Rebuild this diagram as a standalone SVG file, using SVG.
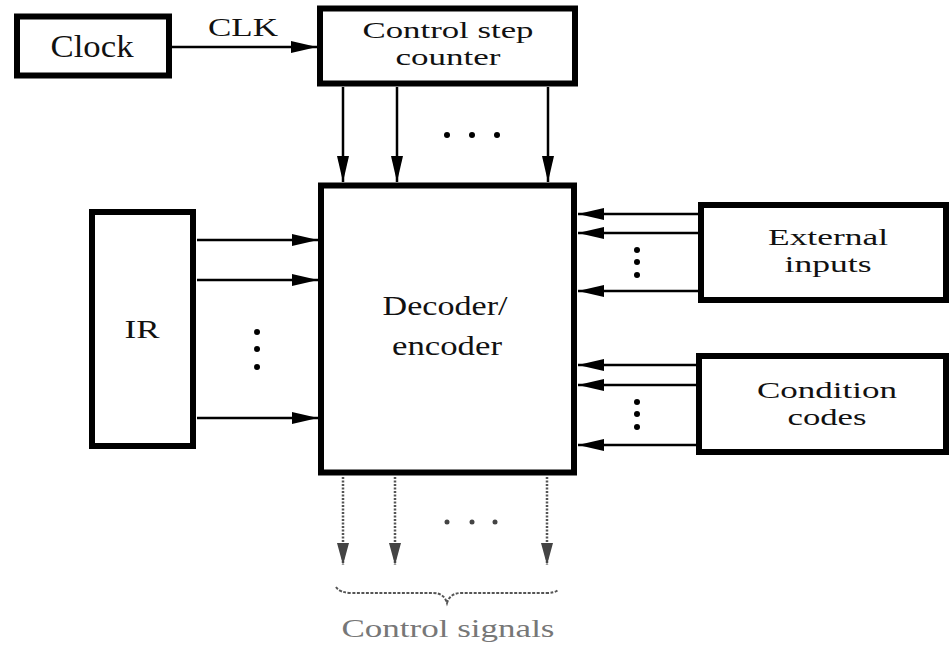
<svg xmlns="http://www.w3.org/2000/svg" width="950" height="652" viewBox="0 0 950 652">
<style>
.box{fill:#fff;stroke:#000;stroke-width:6}
.t{font-family:"Liberation Serif","Times New Roman",serif;fill:#111;text-anchor:middle}
.ln{stroke:#000;stroke-width:2.5;fill:none}
.dl{stroke:#555;stroke-width:2.5;fill:none;stroke-dasharray:2 1.5}
.dot{fill:#000}
</style>
<defs>
<marker id="ah" markerUnits="userSpaceOnUse" markerWidth="28" markerHeight="14" refX="26" refY="7" orient="auto">
<path d="M0,1 L26,7 L0,13 Z" fill="#000"/>
</marker>
<marker id="ahg" markerUnits="userSpaceOnUse" markerWidth="24" markerHeight="14" refX="22" refY="7" orient="auto">
<path d="M0,1 L22,7 L0,13 Z" fill="#444"/>
</marker>
</defs>

<g id="clock">
<rect class="box" x="17" y="16.5" width="152" height="59"/>
<text class="t" x="92" y="57" font-size="32" textLength="83" lengthAdjust="spacingAndGlyphs">Clock</text>
</g>

<g id="counter">
<rect class="box" x="320" y="8.5" width="255" height="75"/>
<text class="t" x="448" y="38" font-size="23" textLength="171" lengthAdjust="spacingAndGlyphs">Control step</text>
<text class="t" x="448" y="65" font-size="23" textLength="105" lengthAdjust="spacingAndGlyphs">counter</text>
</g>

<g id="decoder">
<rect class="box" x="321" y="185.5" width="253" height="287" stroke-width="7"/>
<text class="t" x="445" y="315" font-size="28" textLength="125" lengthAdjust="spacingAndGlyphs">Decoder/</text>
<text class="t" x="447" y="355" font-size="28" textLength="110" lengthAdjust="spacingAndGlyphs">encoder</text>
</g>

<g id="ir">
<rect class="box" x="92" y="212" width="101" height="234" stroke-width="8"/>
<text class="t" x="142" y="338" font-size="25" textLength="35" lengthAdjust="spacingAndGlyphs">IR</text>
</g>

<g id="external">
<rect class="box" x="701" y="205" width="245" height="95"/>
<text class="t" x="828" y="245" font-size="23" textLength="120" lengthAdjust="spacingAndGlyphs">External</text>
<text class="t" x="828" y="272" font-size="23" textLength="87" lengthAdjust="spacingAndGlyphs">inputs</text>
</g>

<g id="condition">
<rect class="box" x="699" y="356" width="247" height="96"/>
<text class="t" x="827" y="398" font-size="23" textLength="140" lengthAdjust="spacingAndGlyphs">Condition</text>
<text class="t" x="827" y="425" font-size="23" textLength="79" lengthAdjust="spacingAndGlyphs">codes</text>
</g>

<g id="connectors">
<line class="ln" x1="172" y1="47" x2="317" y2="47" marker-end="url(#ah)"/>
<text class="t" x="243" y="36" font-size="26" textLength="70" lengthAdjust="spacingAndGlyphs">CLK</text>

<line class="ln" x1="343" y1="87" x2="343" y2="182" marker-end="url(#ah)"/>
<line class="ln" x1="397" y1="87" x2="397" y2="182" marker-end="url(#ah)"/>
<line class="ln" x1="548" y1="87" x2="548" y2="182" marker-end="url(#ah)"/>
<circle class="dot" cx="447" cy="135" r="3"/>
<circle class="dot" cx="472" cy="135" r="3"/>
<circle class="dot" cx="497" cy="135" r="3"/>

<line class="ln" x1="197" y1="240" x2="318" y2="240" marker-end="url(#ah)"/>
<line class="ln" x1="197" y1="280" x2="318" y2="280" marker-end="url(#ah)"/>
<line class="ln" x1="197" y1="418" x2="318" y2="418" marker-end="url(#ah)"/>
<circle class="dot" cx="257" cy="332" r="3"/>
<circle class="dot" cx="257" cy="349" r="3"/>
<circle class="dot" cx="257" cy="367" r="3"/>

<line class="ln" x1="700" y1="214" x2="578" y2="214" marker-end="url(#ah)"/>
<line class="ln" x1="700" y1="233" x2="578" y2="233" marker-end="url(#ah)"/>
<line class="ln" x1="700" y1="291" x2="578" y2="291" marker-end="url(#ah)"/>
<circle class="dot" cx="637" cy="250" r="3"/>
<circle class="dot" cx="637" cy="262" r="3"/>
<circle class="dot" cx="637" cy="275" r="3"/>

<line class="ln" x1="698" y1="365" x2="578" y2="365" marker-end="url(#ah)"/>
<line class="ln" x1="698" y1="385" x2="578" y2="385" marker-end="url(#ah)"/>
<line class="ln" x1="698" y1="445" x2="578" y2="445" marker-end="url(#ah)"/>
<circle class="dot" cx="637" cy="402" r="3"/>
<circle class="dot" cx="637" cy="414" r="3"/>
<circle class="dot" cx="637" cy="427" r="3"/>

<line class="dl" x1="343" y1="477" x2="343" y2="565" marker-end="url(#ahg)"/>
<line class="dl" x1="395" y1="477" x2="395" y2="565" marker-end="url(#ahg)"/>
<line class="dl" x1="547" y1="477" x2="547" y2="565" marker-end="url(#ahg)"/>
<circle cx="447" cy="522" r="2.5" fill="#444"/>
<circle cx="472" cy="522" r="2.5" fill="#444"/>
<circle cx="495" cy="522" r="2.5" fill="#444"/>

<path d="M336,587 Q340,593 352,593 L433,593 Q444,593 447,603 Q450,593 461,593 L546,593 Q555,593 558,590" fill="none" stroke="#555" stroke-width="2" stroke-dasharray="3 1.5"/>
<text x="448" y="637" font-family="'Liberation Serif','Times New Roman',serif" font-size="26" fill="#777" text-anchor="middle" textLength="213" lengthAdjust="spacingAndGlyphs">Control signals</text>
</g>
</svg>
